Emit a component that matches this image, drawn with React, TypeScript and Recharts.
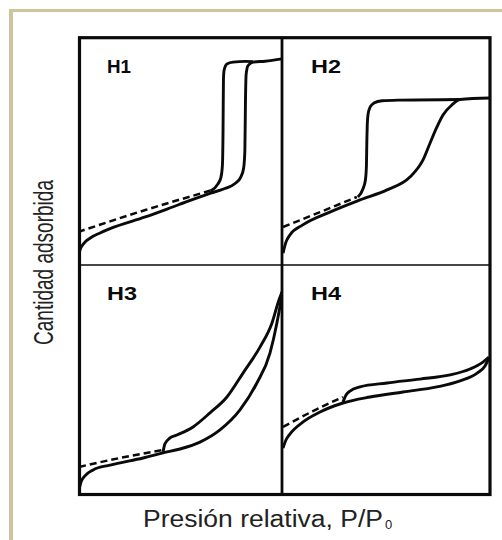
import { LineChart, Line, XAxis, YAxis } from "recharts";

// isotermas con histéresis (H1..H4); p = P/P0 normalizada, q = cantidad normalizada
type Pt = { p: number; q: number };

const H1_ADS: Pt[] = [
  { p: 0.0, q: 0.03 }, { p: 0.01, q: 0.066 }, { p: 0.03, q: 0.096 }, { p: 0.06, q: 0.118 },
  { p: 0.108, q: 0.14 }, { p: 0.16, q: 0.16 }, { p: 0.33, q: 0.21 }, { p: 0.49, q: 0.262 },
  { p: 0.65, q: 0.314 }, { p: 0.72, q: 0.334 }, { p: 0.77, q: 0.356 }, { p: 0.798, q: 0.384 },
  { p: 0.812, q: 0.424 }, { p: 0.818, q: 0.5 }, { p: 0.821, q: 0.72 }, { p: 0.824, q: 0.83 },
  { p: 0.833, q: 0.87 }, { p: 0.858, q: 0.886 }, { p: 0.917, q: 0.89 }, { p: 1.0, q: 0.9 },
];
const H1_DES: Pt[] = [
  { p: 0.65, q: 0.323 }, { p: 0.686, q: 0.354 }, { p: 0.701, q: 0.384 }, { p: 0.708, q: 0.437 },
  { p: 0.711, q: 0.59 }, { p: 0.713, q: 0.81 }, { p: 0.716, q: 0.85 }, { p: 0.73, q: 0.878 },
  { p: 0.76, q: 0.886 }, { p: 0.82, q: 0.889 }, { p: 0.858, q: 0.888 },
];
const H1_DASH: Pt[] = [
  { p: 0.0, q: 0.144 }, { p: 0.33, q: 0.24 }, { p: 0.65, q: 0.325 },
];

const H2_ADS: Pt[] = [
  { p: 0.005, q: 0.052 }, { p: 0.019, q: 0.1 }, { p: 0.038, q: 0.131 }, { p: 0.1, q: 0.175 },
  { p: 0.23, q: 0.231 }, { p: 0.375, q: 0.284 }, { p: 0.505, q: 0.328 }, { p: 0.615, q: 0.384 },
  { p: 0.678, q: 0.459 }, { p: 0.712, q: 0.533 }, { p: 0.745, q: 0.603 }, { p: 0.774, q: 0.655 },
  { p: 0.817, q: 0.699 }, { p: 0.856, q: 0.723 }, { p: 1.0, q: 0.729 },
];
const H2_DES: Pt[] = [
  { p: 0.365, q: 0.297 }, { p: 0.389, q: 0.332 }, { p: 0.401, q: 0.371 }, { p: 0.406, q: 0.437 },
  { p: 0.408, q: 0.546 }, { p: 0.41, q: 0.615 }, { p: 0.414, q: 0.66 }, { p: 0.424, q: 0.69 },
  { p: 0.442, q: 0.707 }, { p: 0.481, q: 0.717 }, { p: 0.567, q: 0.72 }, { p: 0.856, q: 0.723 },
];
const H2_DASH: Pt[] = [
  { p: 0.005, q: 0.166 }, { p: 0.183, q: 0.231 }, { p: 0.36, q: 0.297 },
];

const H3_ADS: Pt[] = [
  { p: 0.005, q: 0.022 }, { p: 0.015, q: 0.057 }, { p: 0.034, q: 0.083 }, { p: 0.074, q: 0.109 },
  { p: 0.157, q: 0.13 }, { p: 0.319, q: 0.161 }, { p: 0.417, q: 0.183 }, { p: 0.5, q: 0.2 },
  { p: 0.598, q: 0.23 }, { p: 0.696, q: 0.283 }, { p: 0.794, q: 0.37 }, { p: 0.877, q: 0.487 },
  { p: 0.941, q: 0.617 }, { p: 0.975, q: 0.748 }, { p: 0.995, q: 0.848 }, { p: 1.0, q: 0.883 },
];
const H3_DES: Pt[] = [
  { p: 0.417, q: 0.187 }, { p: 0.426, q: 0.222 }, { p: 0.451, q: 0.248 }, { p: 0.485, q: 0.261 },
  { p: 0.564, q: 0.296 }, { p: 0.647, q: 0.357 }, { p: 0.73, q: 0.426 }, { p: 0.809, q: 0.53 },
  { p: 0.892, q: 0.643 }, { p: 0.951, q: 0.748 }, { p: 0.985, q: 0.848 }, { p: 1.0, q: 0.883 },
];
const H3_DASH: Pt[] = [
  { p: 0.005, q: 0.122 }, { p: 0.206, q: 0.161 }, { p: 0.417, q: 0.196 },
];

const H4_ADS: Pt[] = [
  { p: 0.005, q: 0.204 }, { p: 0.019, q: 0.239 }, { p: 0.038, q: 0.265 }, { p: 0.1, q: 0.317 },
  { p: 0.183, q: 0.361 }, { p: 0.293, q: 0.4 }, { p: 0.423, q: 0.426 }, { p: 0.582, q: 0.448 },
  { p: 0.745, q: 0.47 }, { p: 0.856, q: 0.496 }, { p: 0.938, q: 0.53 }, { p: 0.976, q: 0.561 },
  { p: 0.995, q: 0.596 },
];
const H4_DES: Pt[] = [
  { p: 0.293, q: 0.404 }, { p: 0.308, q: 0.435 }, { p: 0.327, q: 0.452 }, { p: 0.375, q: 0.47 },
  { p: 0.505, q: 0.487 }, { p: 0.663, q: 0.504 }, { p: 0.808, q: 0.522 }, { p: 0.904, q: 0.548 },
  { p: 0.966, q: 0.578 }, { p: 0.995, q: 0.6 },
];
const H4_DASH: Pt[] = [
  { p: 0.005, q: 0.296 }, { p: 0.149, q: 0.365 }, { p: 0.293, q: 0.426 },
];

const PANEL_LABELS = ["H1", "H2", "H3", "H4"];
const Y_LABEL = "Cantidad adsorbida";
const X_LABEL = "Presión relativa, P/P";
const X_LABEL_SUB = "0";

const INK = "#0a0a0a";
const FONT = "'Liberation Sans', Arial, sans-serif";

interface PanelProps {
  left: number;
  top: number;
  width: number;
  height: number;
  ads: Pt[];
  des: Pt[];
  dash: Pt[];
}

function Panel({ left, top, width, height, ads, des, dash }: PanelProps) {
  return (
    <div style={{ position: "absolute", left, top }}>
      <LineChart width={width} height={height} margin={{ top: 0, right: 0, bottom: 0, left: 0 }}>
        <XAxis type="number" dataKey="p" domain={[0, 1]} hide allowDataOverflow />
        <YAxis type="number" domain={[0, 1]} hide allowDataOverflow />
        <Line
          data={dash}
          dataKey="q"
          type="monotone"
          stroke={INK}
          strokeWidth={2.5}
          strokeDasharray="7 4"
          dot={false}
          activeDot={false}
          isAnimationActive={false}
        />
        <Line
          data={ads}
          dataKey="q"
          type="monotone"
          stroke={INK}
          strokeWidth={2.9}
          dot={false}
          activeDot={false}
          isAnimationActive={false}
        />
        <Line
          data={des}
          dataKey="q"
          type="monotone"
          stroke={INK}
          strokeWidth={2.9}
          dot={false}
          activeDot={false}
          isAnimationActive={false}
        />
      </LineChart>
    </div>
  );
}

export default function App() {
  return (
    <div
      style={{
        position: "absolute",
        left: 0,
        top: 0,
        width: 502,
        height: 540,
        background: "#fff",
        overflow: "hidden",
      }}
    >
      <div
        style={{
          position: "absolute",
          left: 9,
          top: 9,
          width: 520,
          height: 560,
          borderTop: "3px solid #cdc59c",
          borderLeft: "4px solid #cdc59c",
        }}
      />

      <Panel left={78} top={36} width={204} height={229} ads={H1_ADS} des={H1_DES} dash={H1_DASH} />
      <Panel left={282} top={36} width={208} height={229} ads={H2_ADS} des={H2_DES} dash={H2_DASH} />
      <Panel left={78} top={265} width={204} height={230} ads={H3_ADS} des={H3_DES} dash={H3_DASH} />
      <Panel left={282} top={265} width={208} height={230} ads={H4_ADS} des={H4_DES} dash={H4_DASH} />

      <svg
        width={502}
        height={540}
        style={{ position: "absolute", left: 0, top: 0, pointerEvents: "none" }}
      >
        {/* marco de los cuatro paneles */}
        <rect x={79.5} y={37.7} width={410.5} height={456.8} fill="none" stroke={INK} strokeWidth={3.2} />
        <line x1={282} y1={37.7} x2={282} y2={494.5} stroke={INK} strokeWidth={2.8} />
        <line x1={79.5} y1={265} x2={490} y2={265} stroke={INK} strokeWidth={1.7} />

        {PANEL_LABELS.map((t, i) => (
          <text
            key={t}
            x={i % 2 === 0 ? 107 : 311}
            y={i < 2 ? 72.5 : 299.5}
            fontFamily={FONT}
            fontWeight="bold"
            fontSize={18}
            textLength={i === 0 ? 24 : 30}
            lengthAdjust="spacingAndGlyphs"
            fill={INK}
          >
            {t}
          </text>
        ))}

        <text
          x={53}
          y={262.5}
          transform="rotate(-90 53 262.5)"
          textAnchor="middle"
          fontFamily={FONT}
          fontSize={27}
          textLength={165}
          lengthAdjust="spacingAndGlyphs"
          fill="#222"
        >
          {Y_LABEL}
        </text>

        <text
          x={143}
          y={527}
          fontFamily={FONT}
          fontSize={23}
          textLength={240}
          lengthAdjust="spacingAndGlyphs"
          fill="#222"
        >
          {X_LABEL}
        </text>
        <text x={385} y={529} fontFamily={FONT} fontSize={13} fill="#222">
          {X_LABEL_SUB}
        </text>
      </svg>
    </div>
  );
}
